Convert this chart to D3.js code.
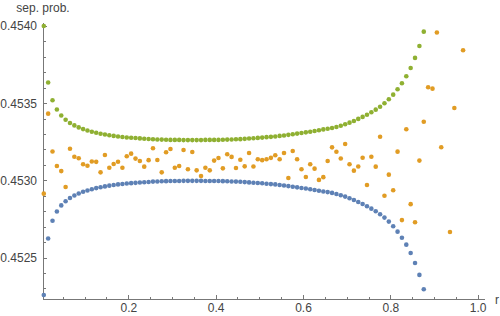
<!DOCTYPE html>
<html>
<head>
<meta charset="utf-8">
<script src="https://cdn.jsdelivr.net/npm/d3@7"></script>
<style>
  body { margin: 0; background: #fff; }
  text { font-family: "Liberation Sans", Arial, sans-serif; font-size: 12px; fill: #444; }
  .axis path, .axis line { stroke: #777; shape-rendering: crispEdges; }
</style>
</head>
<body>
<div id="chart"></div>
<script>
// sample positions r (shared by all three series)
const rValues = [
  0.0065, 0.0165, 0.0265, 0.0365, 0.0465, 0.0565, 0.0665, 0.0765, 0.0865, 0.0965,
  0.1065, 0.1165, 0.1265, 0.1365, 0.1465, 0.1565, 0.1665, 0.1765, 0.1865, 0.1965,
  0.2065, 0.2165, 0.2265, 0.2365, 0.2465, 0.2565, 0.2665, 0.2765, 0.2865, 0.2965,
  0.3065, 0.3165, 0.3265, 0.3365, 0.3465, 0.3565, 0.3665, 0.3765, 0.3865, 0.3965,
  0.4065, 0.4165, 0.4265, 0.4365, 0.4465, 0.4565, 0.4665, 0.4765, 0.4865, 0.4965,
  0.5065, 0.5165, 0.5265, 0.5365, 0.5465, 0.5565, 0.5665, 0.5765, 0.5865, 0.5965,
  0.6065, 0.6165, 0.6265, 0.6365, 0.6465, 0.6565, 0.6665, 0.6765, 0.6865, 0.6965,
  0.7065, 0.7165, 0.7265, 0.7365, 0.7465, 0.7565, 0.7665, 0.7765, 0.7865, 0.7965,
  0.8065, 0.8165, 0.8265, 0.8365, 0.8465, 0.8565, 0.8665, 0.8765, 0.8865, 0.8965,
  0.9065, 0.9165, 0.9265, 0.9365, 0.9465, 0.9565, 0.9665
];

// lower curve (blue)
const blueValues = [
  0.452258, 0.452624, 0.452739, 0.452799, 0.452838, 0.452865, 0.452886, 0.452902, 0.452915, 0.452926,
  0.452935, 0.452943, 0.452950, 0.452956, 0.452961, 0.452966, 0.452970, 0.452974, 0.452977, 0.452980,
  0.452982, 0.452984, 0.452986, 0.452988, 0.452990, 0.452992, 0.452993, 0.452994, 0.452995, 0.452996,
  0.452996, 0.452996, 0.452997, 0.452997, 0.452997, 0.452997, 0.452997, 0.452996, 0.452996, 0.452996,
  0.452996, 0.452995, 0.452994, 0.452993, 0.452992, 0.452991, 0.452989, 0.452987, 0.452985, 0.452983,
  0.452981, 0.452978, 0.452976, 0.452974, 0.452970, 0.452967, 0.452963, 0.452959, 0.452955, 0.452951,
  0.452947, 0.452943, 0.452938, 0.452933, 0.452928, 0.452924, 0.452919, 0.452912, 0.452904, 0.452895,
  0.452884, 0.452873, 0.452860, 0.452847, 0.452833, 0.452817, 0.452800, 0.452781, 0.452759, 0.452733,
  0.452703, 0.452668, 0.452629, 0.452584, 0.452530, 0.452465, 0.452388, 0.452295
];

// noisy middle series (orange); null = outside the plot range
const orangeValues = [
  0.452914, 0.453432, 0.453187, 0.453093, 0.453060, 0.452957, 0.453205, 0.453153, 0.453143, 0.453104,
  0.453095, 0.453122, 0.453120, 0.453052, 0.453164, 0.453082, 0.453106, 0.453121, 0.453082, 0.453156,
  0.453173, 0.453141, 0.453126, 0.453089, 0.453131, 0.453208, 0.453132, 0.453052, 0.453182, 0.453203,
  0.453082, 0.453093, 0.453197, 0.453072, 0.453184, 0.453065, 0.453028, 0.453082, 0.453065, 0.453128,
  0.453145, 0.453078, 0.453169, 0.453152, 0.453080, 0.453134, 0.453091, 0.453177, 0.453090, 0.453137,
  0.453131, 0.453137, 0.453146, 0.453163, 0.453137, 0.453177, 0.453015, 0.453190, 0.453137, 0.453072,
  0.453022, 0.453104, 0.453076, 0.453003, 0.453021, 0.453126, 0.453214, 0.453185, 0.453142, 0.453236,
  0.453104, 0.453063, 0.453090, 0.453147, 0.452970, 0.453153, 0.453089, 0.453283, 0.452901, 0.453037,
  0.452936, 0.453186, 0.452743, 0.453331, 0.452846, 0.452729, 0.453128, 0.453380, 0.453603, 0.453594,
  0.453958, 0.453215, null, 0.452666, 0.453469, null, 0.453843
];

// upper curve (green)
const greenValues = [
  0.454000, 0.453634, 0.453519, 0.453459, 0.453420, 0.453393, 0.453372, 0.453356, 0.453343, 0.453332,
  0.453323, 0.453315, 0.453308, 0.453302, 0.453297, 0.453292, 0.453288, 0.453284, 0.453281, 0.453278,
  0.453276, 0.453274, 0.453272, 0.453270, 0.453268, 0.453266, 0.453265, 0.453264, 0.453263, 0.453262,
  0.453262, 0.453262, 0.453261, 0.453261, 0.453261, 0.453261, 0.453261, 0.453262, 0.453262, 0.453262,
  0.453262, 0.453263, 0.453264, 0.453265, 0.453266, 0.453267, 0.453269, 0.453271, 0.453273, 0.453275,
  0.453277, 0.453280, 0.453282, 0.453284, 0.453288, 0.453291, 0.453295, 0.453299, 0.453303, 0.453307,
  0.453311, 0.453315, 0.453320, 0.453325, 0.453330, 0.453334, 0.453339, 0.453346, 0.453354, 0.453363,
  0.453374, 0.453385, 0.453398, 0.453411, 0.453425, 0.453441, 0.453458, 0.453477, 0.453499, 0.453525,
  0.453555, 0.453590, 0.453629, 0.453674, 0.453728, 0.453793, 0.453870, 0.453963
];

// ticks
const xMajorTicks = [0.2, 0.4, 0.6, 0.8, 1.0];
const xMinorTicks = [0.05, 0.1, 0.15, 0.25, 0.3, 0.35, 0.45, 0.5, 0.55, 0.65, 0.7, 0.75, 0.85, 0.9, 0.95];
const yMajorTicks = [0.4525, 0.4530, 0.4535, 0.4540];
const yMinorTicks = [0.4523, 0.4524, 0.4526, 0.4527, 0.4528, 0.4529, 0.4531, 0.4532, 0.4533, 0.4534,
  0.4536, 0.4537, 0.4538, 0.4539];

const xLabel = "r";
const yLabel = "sep. prob.";

(function () {
  const svgWidth = 500, svgHeight = 316;

  const x = d3.scaleLinear().domain([0.0047, 1.0144]).range([43, 484]);
  const y = d3.scaleLinear().domain([0.452232, 0.454021]).range([299, 22.7]);

  const svg = d3.select("#chart").append("svg")
    .attr("width", svgWidth)
    .attr("height", svgHeight);

  // y axis (ticks point into the plot)
  svg.append("g")
    .attr("class", "axis")
    .attr("transform", "translate(" + x.range()[0] + ",0)")
    .call(d3.axisRight(y).tickValues(yMinorTicks).tickSize(2.5).tickSizeOuter(0).tickFormat(""));
  const yAxis = svg.append("g")
    .attr("class", "axis")
    .attr("transform", "translate(" + x.range()[0] + ",0)")
    .call(d3.axisRight(y).tickValues(yMajorTicks).tickSize(4).tickSizeOuter(0).tickFormat(d3.format(".4f")));
  yAxis.selectAll("text")
    .attr("x", -6)
    .attr("text-anchor", "end");

  // x axis
  svg.append("g")
    .attr("class", "axis")
    .attr("transform", "translate(0," + y.range()[0] + ")")
    .call(d3.axisTop(x).tickValues(xMinorTicks).tickSize(2.5).tickSizeOuter(0).tickFormat(""));
  const xAxis = svg.append("g")
    .attr("class", "axis")
    .attr("transform", "translate(0," + y.range()[0] + ")")
    .call(d3.axisTop(x).tickValues(xMajorTicks).tickSize(4).tickSizeOuter(0).tickFormat(d3.format(".1f")));
  xAxis.selectAll("text")
    .attr("y", 13)
    .attr("dy", null);

  svg.selectAll(".axis text").style("font-size", "12px").attr("fill", "#444");

  // axis labels
  svg.append("text")
    .attr("x", 43)
    .attr("y", 12)
    .attr("text-anchor", "middle")
    .text(yLabel);
  svg.append("text")
    .attr("x", 495)
    .attr("y", 304)
    .text(xLabel);

  // series, drawn in Mathematica order
  const series = [
    { values: blueValues, color: "#5E81B5" },
    { values: orangeValues, color: "#E19C24" },
    { values: greenValues, color: "#8FB032" }
  ];

  series.forEach(function (s) {
    const pts = s.values
      .map(function (v, i) { return { r: rValues[i], v: v }; })
      .filter(function (d) { return d.v !== null; });
    svg.append("g")
      .selectAll("circle")
      .data(pts)
      .enter().append("circle")
      .attr("cx", function (d) { return x(d.r); })
      .attr("cy", function (d) { return y(d.v); })
      .attr("r", 2.3)
      .attr("fill", s.color);
  });
})();
</script>
</body>
</html>
